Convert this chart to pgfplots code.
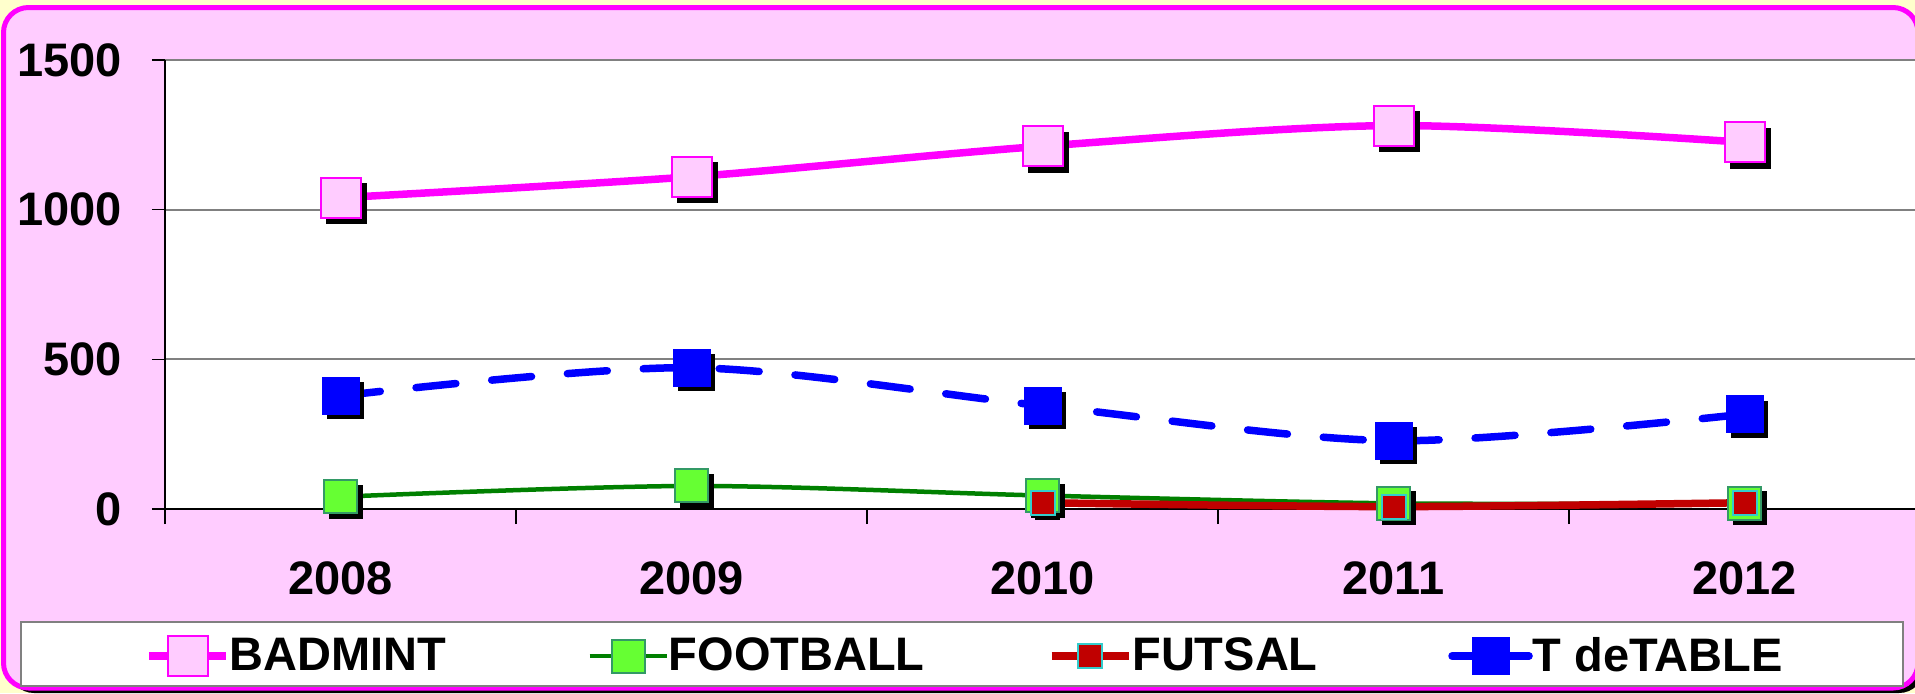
\documentclass[border=0pt]{standalone}
\usepackage{fontspec}
\setmainfont{Liberation Sans}
\usepackage{pgfplots}
\pgfplotsset{compat=1.18}

\definecolor{bgyellow}{HTML}{FFFFCC}
\definecolor{pinkbg}{HTML}{FFCCFF}
\definecolor{magline}{HTML}{FF00FF}
\definecolor{footline}{HTML}{008000}
\definecolor{footfill}{HTML}{66FF33}
\definecolor{footedge}{HTML}{339966}
\definecolor{futred}{HTML}{C00000}
\definecolor{futedge}{HTML}{33CCCC}
\definecolor{gridgray}{HTML}{808080}

\pgfplotstableread{
x badmint football tdetable
0 1040 41 378
1 1110 77 472
2 1212 45 345
3 1281 19 228
4 1225 19 317
}\sportdata
\pgfplotstableread{
x futsal
2 21
3 8
4 21
}\futsaldata

\begin{document}
\begin{tikzpicture}
% 1 px of the reference = 0.5pt, origin bottom left
\useasboundingbox (0pt,0pt) rectangle (957.5pt,346.5pt);
\clip (0pt,0pt) rectangle (957.5pt,346.5pt);
\fill[bgyellow] (0pt,0pt) rectangle (957.5pt,346.5pt);
\fill[black, rounded corners=12.5pt] (4.5pt,0pt) rectangle (962pt,340pt);
\filldraw[fill=pinkbg, draw=magline, line width=2.5pt, rounded corners=12.5pt]
  (1.75pt,2.5pt) rectangle (959pt,342.75pt);
\filldraw[fill=white, draw=gridgray, line width=0.6pt] (10.5pt,3.5pt) rectangle (951.5pt,35.5pt);

\begin{axis}[
    at={(82.5pt,92pt)}, anchor=south west,
    scale only axis, width=877.5pt, height=224.5pt,
    xmin=-0.5, xmax=4.5, ymin=0, ymax=1500,
    axis lines*=left,
    axis background/.style={fill=white},
    clip=false,
    xtick={0,1,2,3,4}, xticklabels={2008,2009,2010,2011,2012},
    minor xtick={-0.5,0.5,1.5,2.5,3.5,4.5},
    ytick={0,500,1000,1500}, yticklabels={0,500,1000,1500},
    ymajorgrids,
    major grid style={gridgray, line width=1pt},
    tick align=outside,
    major x tick style={draw=none},
    major tick length=6.5pt, minor tick length=7.5pt,
    tick style={black, line width=0.6pt},
    axis line style={black, line width=0.6pt},
    ticklabel style={font=\bfseries\fontsize{23.5}{28}\selectfont},
    yticklabel style={anchor=east, inner sep=0pt, xshift=-15pt},
    xticklabel style={anchor=center, inner sep=0pt, yshift=-28pt},
    legend columns=4,
    legend style={draw=none, fill=none, inner sep=0pt, column sep=0pt,
      at={(axis description cs:-0.0114,-0.3274)}, anchor=west,
      font=\bfseries\fontsize{23.5}{28}\selectfont,
      nodes={inner sep=0pt}},
    legend image code/.code={
      \draw[mark repeat=2, mark phase=2, #1, solid]
        plot coordinates {(0pt,0pt) (19.25pt,0pt) (38.5pt,0pt)};},
]
% marker shadows
\addplot[forget plot, only marks, mark=square*, mark size=10pt, black,
  mark options={xshift=3pt, yshift=-3pt}] table[x=x, y=badmint] {\sportdata};
\addplot[forget plot, only marks, mark=square*, mark size=8.25pt, black,
  mark options={xshift=2.5pt, yshift=-2.5pt}] table[x=x, y=football] {\sportdata};
\addplot[forget plot, only marks, mark=square*, mark size=9pt, black,
  mark options={xshift=2.5pt, yshift=-2.5pt}] table[x=x, y=tdetable] {\sportdata};
\addplot[forget plot, only marks, mark=square*, mark size=6pt, black,
  mark options={xshift=2.5pt, yshift=-2.5pt}] table[x=x, y=futsal] {\futsaldata};

\addplot[magline, line width=3.75pt, smooth, mark=square*, mark size=10pt,
  mark options={solid, fill=pinkbg, draw=magline, line width=1pt}]
  table[x=x, y=badmint] {\sportdata};
\addlegendentry{\makebox[178.7pt][l]{BADMINT}}

\addplot[footline, line width=2.25pt, smooth, mark=square*, mark size=8.25pt,
  mark options={solid, fill=footfill, draw=footedge, line width=1pt}]
  table[x=x, y=football] {\sportdata};
\addlegendentry{\makebox[189.5pt][l]{FOOTBALL}}

\addplot[futred, line width=3.75pt, smooth, mark=square*, mark size=6pt,
  mark options={solid, fill=futred, draw=futedge, line width=1pt}]
  table[x=x, y=futsal] {\futsaldata};
\addlegendentry{\makebox[158pt][l]{FUTSAL}}

\addplot[blue, line width=3.75pt, smooth, line cap=round,
  dash pattern=on 20pt off 18pt, mark=square*, mark size=9pt,
  mark options={solid, fill=blue, draw=blue, line width=1pt}]
  table[x=x, y=tdetable] {\sportdata};
\addlegendentry{T deTABLE}
\end{axis}
\end{tikzpicture}
\end{document}
